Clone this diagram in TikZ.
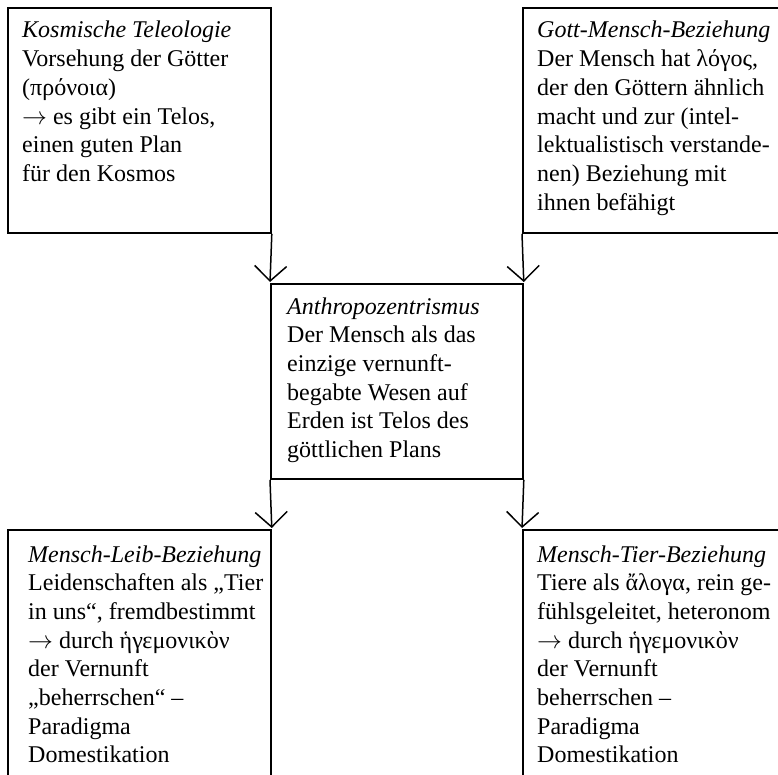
\documentclass[tikz,border=0pt]{standalone}
\usepackage{fontspec}
\setmainfont{Liberation Serif}
\usetikzlibrary{arrows.meta}
\tikzset{
  boxnode/.style={draw, line width=1.8pt, rectangle, inner sep=0pt, anchor=north west},
  txt/.style={anchor=base west, inner sep=0pt, font=\fontsize{24}{28.7}\selectfont},
  arr/.style={line width=1.5pt, -{Straight Barb[length=15pt,width=32pt,line width=1.5pt]}, shorten >=1pt}
}
\newcommand{\boxtext}[1]{\parbox[t]{300pt}{\raggedright #1}}
\newcommand{\rarr}{$\rightarrow$}
\begin{document}
\begin{tikzpicture}[x=1pt,y=-1pt]
\useasboundingbox (0,0) rectangle (778,775);
\clip (0,0) rectangle (778,775);
% boxes
\node[boxnode, minimum width=263pt, minimum height=225pt] (tl) at (7,7) {};
\node[boxnode, minimum width=280pt, minimum height=225pt] (tr) at (522,7) {};
\node[boxnode, minimum width=252pt, minimum height=195pt] (mid) at (270,283) {};
\node[boxnode, minimum width=263pt, minimum height=270pt] (bl) at (7,529) {};
\node[boxnode, minimum width=280pt, minimum height=270pt] (br) at (522,529) {};
% texts
\node[txt] (tltext) at (22,38) {\boxtext{\textit{Kosmische Teleologie}\\
Vorsehung der Götter\\
(πρόνοια)\\
\rarr{} es gibt ein Telos,\\
einen guten Plan\\
für den Kosmos}};
\node[txt] (trtext) at (537,38) {\boxtext{\textit{Gott-Mensch-Beziehung}\\
Der Mensch hat λόγος,\\
der den Göttern ähnlich\\
macht und zur (intel-\\
lektualistisch verstande-\\
nen) Beziehung mit\\
ihnen befähigt}};
\node[txt] (midtext) at (287,314) {\boxtext{\textit{Anthropozentrismus}\\
Der Mensch als das\\
einzige vernunft-\\
begabte Wesen auf\\
Erden ist Telos des\\
göttlichen Plans}};
\node[txt] (bltext) at (28,562) {\boxtext{\textit{Mensch-Leib-Beziehung}\\
Leidenschaften als „Tier\\
in uns“, fremdbestimmt\\
\rarr{} durch ἡγεμονικὸν\\
der Vernunft\\
„beherrschen“ –\\
Paradigma\\
Domestikation}};
\node[txt] (brtext) at (537,562) {\boxtext{\textit{Mensch-Tier-Beziehung}\\
Tiere als ἄλογα, rein ge-\\
fühlsgeleitet, heteronom\\
\rarr{} durch ἡγεμονικὸν\\
der Vernunft\\
beherrschen –\\
Paradigma\\
Domestikation}};
% arrows
\draw[arr] (tl.south east) -- (mid.north west);
\draw[arr] (tr.south west) -- (mid.north east);
\draw[arr] (mid.south west) -- (bl.north east);
\draw[arr] (mid.south east) -- (br.north west);
\end{tikzpicture}
\end{document}
